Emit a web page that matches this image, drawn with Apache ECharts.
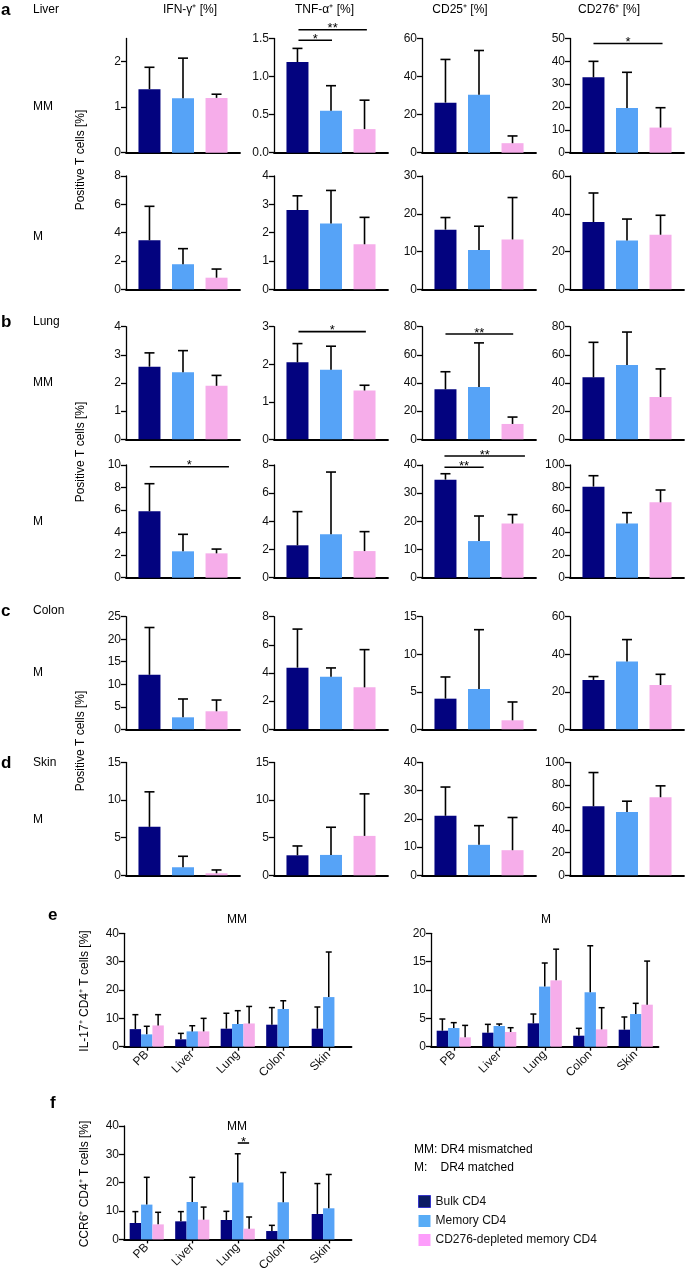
<!DOCTYPE html>
<html>
<head>
<meta charset="utf-8" />
<title>T cell subsets</title>
<script src="https://cdn.jsdelivr.net/npm/echarts@6/dist/echarts.min.js"></script>
<style>
  body { margin: 0; background: #fff; }
  #main { width: 685px; height: 1277px; }
</style>
</head>
<body>
<div id="main"></div>
<script type="text/javascript">
// groups and colours
var groups = ['Bulk CD4', 'Memory CD4', 'CD276-depleted memory CD4'];
var colors = ['#03037f', '#56a3f7', '#f6adea'];
var markers = ['IFN-γ⁺ [%]', 'TNF-α⁺ [%]', 'CD25⁺ [%]', 'CD276⁺ [%]'];
var tissues = ['PB', 'Liver', 'Lung', 'Colon', 'Skin'];

// panels a-d: per marker [bulk, memory, CD276-depleted], mean and top of error bar
var liverMM_mean = [[1.39, 1.19, 1.2], [1.19, 0.55, 0.31], [26.3, 30.5, 5], [33, 19.6, 11]];
var liverMM_err = [[1.87, 2.07, 1.28], [1.37, 0.88, 0.69], [49, 53.7, 8.8], [40, 35.2, 19.7]];
var liverMM_ticks = [[0, 1, 2], [0, 0.5, 1, 1.5], [0, 20, 40, 60], [0, 10, 20, 30, 40, 50]];

var liverM_mean = [[3.46, 1.77, 0.82], [2.8, 2.32, 1.59], [15.8, 10.4, 13.2], [35.6, 25.8, 28.9]];
var liverM_err = [[5.86, 2.87, 1.43], [3.3, 3.49, 2.54], [19, 16.7, 24.3], [51, 37.2, 39.2]];
var liverM_ticks = [[0, 2, 4, 6, 8], [0, 1, 2, 3, 4], [0, 10, 20, 30], [0, 20, 40, 60]];

var lungMM_mean = [[2.58, 2.38, 1.9], [2.05, 1.85, 1.3], [35.5, 37.2, 10.9], [44, 52.8, 30]];
var lungMM_err = [[3.07, 3.15, 2.27], [2.55, 2.48, 1.44], [48, 68.5, 15.8], [68.9, 76.2, 50]];
var lungMM_ticks = [[0, 1, 2, 3, 4], [0, 1, 2, 3], [0, 20, 40, 60, 80], [0, 20, 40, 60, 80]];

var lungM_mean = [[5.89, 2.34, 2.16], [2.3, 3.08, 1.89], [34.8, 13, 19.2], [80.8, 48.2, 66.9]];
var lungM_err = [[8.34, 3.85, 2.54], [4.69, 7.5, 3.27], [36.9, 21.9, 22.4], [90.5, 57.7, 77.8]];
var lungM_ticks = [[0, 2, 4, 6, 8, 10], [0, 2, 4, 6, 8], [0, 10, 20, 30, 40], [0, 20, 40, 60, 80, 100]];

var colon_mean = [[12.1, 2.66, 4.0], [4.38, 3.74, 2.98], [4.08, 5.37, 1.2], [26.3, 36.1, 23.6]];
var colon_err = [[22.6, 6.73, 6.5], [7.12, 4.36, 5.66], [6.97, 13.27, 3.64], [28.1, 47.8, 29.3]];
var colon_ticks = [[0, 5, 10, 15, 20, 25], [0, 2, 4, 6, 8], [0, 5, 10, 15], [0, 20, 40, 60]];

var skin_mean = [[6.44, 1.07, 0.27], [2.66, 2.71, 5.24], [21.1, 10.8, 8.9], [61.2, 56.2, 69.2]];
var skin_err = [[11.1, 2.53, 0.71], [3.9, 6.39, 10.83], [31.3, 17.6, 20.5], [91.1, 65.7, 79.3]];
var skin_ticks = [[0, 5, 10, 15], [0, 5, 10, 15], [0, 10, 20, 30, 40], [0, 20, 40, 60, 80, 100]];

// significance bars: [row, marker, x from, x to, y, label]
var sigRows = [
  [0, 1, 1.03, 2.03, 1.477, '*'], [0, 1, 1.03, 3.07, 1.614, '**'],
  [0, 3, 1.0, 3.06, 47.8, '*'],
  [2, 1, 1.03, 3.04, 2.87, '*'], [2, 2, 1.0, 3.02, 74.8, '**'],
  [3, 0, 1.01, 3.37, 9.85, '*'], [3, 2, 0.97, 2.14, 39.2, '**'], [3, 2, 0.97, 3.37, 43.2, '**']
];

// panel e and f: per group, values over tissues
var eMM_mean = [[6.2, 2.6, 6.35, 7.76, 6.35], [4.35, 5.4, 8, 13.3, 17.5], [7.5, 5.4, 8.2, null, null]];
var eMM_err = [[11.3, 4.7, 11.8, 13.8, 14], [7.2, 7.4, 12.7, 16.2, 33.4], [11.3, 10, 14.2, null, null]];
var eM_mean = [[2.82, 2.47, 4.12, 1.94, 3.0], [3.29, 3.65, 10.6, 9.6, 5.76], [1.65, 2.59, 11.7, 3.06, 7.41]];
var eM_err = [[4.88, 3.94, 5.76, 3.24, 5.24], [4.24, 4.0, 14.76, 17.8, 7.65], [3.76, 3.35, 17.2, 6.88, 15.1]];
var f_mean = [[5.78, 6.37, 6.84, 2.95, 8.97], [12.27, 13.2, 20.06, 13.1, 10.97], [5.3, 6.96, 3.78, null, null]];
var f_err = [[9.8, 9.8, 9.9, 4.96, 19.7], [21.9, 21.9, 30.2, 23.6, 22.9], [9.56, 11.4, 7.9, null, null]];
var eMM_ticks = [0, 10, 20, 30, 40];
var eM_ticks = [0, 5, 10, 15, 20];
var f_ticks = [0, 10, 20, 30, 40];
// f: [tissue, group from, group to, y, label]
var fSig = [[2, 1, 2, 34, '*']];

var FONT = "'Liberation Sans', Arial, Helvetica, sans-serif";

var myChart = echarts.init(document.getElementById('main'), null, {renderer: 'canvas'});

var grids = [], xAxes = [], yAxes = [], series = [];

function fmt(ticks) {
  var dec = ticks.some(function (t) { return t % 1 !== 0; }) ? 1 : 0;
  return function (v) { return v.toFixed(dec); };
}

function yAxisFor(g, ticks, top) {
  return {
    gridIndex: g, type: 'value', min: 0, max: top, interval: ticks[1] - ticks[0],
    splitLine: {show: false},
    axisLine: {show: true, onZero: false, lineStyle: {color: '#000', width: 1.3}},
    axisTick: {show: true, length: 5, lineStyle: {color: '#000', width: 1.3}, customValues: ticks},
    axisLabel: {color: '#111', fontSize: 12, fontFamily: FONT, margin: 5, customValues: ticks, formatter: fmt(ticks)}
  };
}

// error bars, single-series panels (value x axis)
function errSimple(params, api) {
  var x = api.value(0), m = api.value(1), e = api.value(2);
  var p0 = api.coord([x, m]), p1 = api.coord([x, e]);
  var st = {stroke: '#000', lineWidth: 1.6};
  return {type: 'group', children: [
    {type: 'line', shape: {x1: p0[0], y1: p0[1], x2: p1[0], y2: p1[1]}, style: st},
    {type: 'line', shape: {x1: p1[0] - 5, y1: p1[1], x2: p1[0] + 5, y2: p1[1]}, style: st}
  ]};
}

// error bars, grouped panels (category x axis)
function errGrouped(params, api) {
  var x = api.value(0), m = api.value(1), e = api.value(2), k = api.value(3);
  var bw = api.size([1, 0])[0] * 0.75 / 3;
  var p0 = api.coord([x, m]), p1 = api.coord([x, e]);
  var dx = (k - 1) * bw;
  var st = {stroke: '#000', lineWidth: 1.5};
  return {type: 'group', children: [
    {type: 'line', shape: {x1: p0[0] + dx, y1: p0[1], x2: p1[0] + dx, y2: p1[1]}, style: st},
    {type: 'line', shape: {x1: p1[0] + dx - 3, y1: p1[1], x2: p1[0] + dx + 3, y2: p1[1]}, style: st}
  ]};
}

function sigItem(x1, x2, y, label) {
  return {type: 'group', children: [
    {type: 'line', shape: {x1: x1, y1: y, x2: x2, y2: y}, style: {stroke: '#000', lineWidth: 1.6}},
    {type: 'text', style: {text: label, x: (x1 + x2) / 2, y: y - 1, textAlign: 'center', textVerticalAlign: 'middle',
      align: 'center', verticalAlign: 'middle', font: '13px ' + FONT, fill: '#000'}}
  ]};
}

function sigSimpleRender(sigs) {
  return function (params, api) {
    var a = api.coord([api.value(0), api.value(2)]);
    var b = api.coord([api.value(1), api.value(2)]);
    return sigItem(a[0], b[0], a[1], sigs[params.dataIndex][5]);
  };
}

// layout of panels a-d
var colLeft = [126, 274, 422, 570];
var rowTop = [38.5, 176, 326.7, 465, 616.7, 762.5];
var rowBottom = [152.7, 289.3, 439.3, 577.7, 729.3, 875.3];
var rows = [
  [liverMM_mean, liverMM_err, liverMM_ticks],
  [liverM_mean, liverM_err, liverM_ticks],
  [lungMM_mean, lungMM_err, lungMM_ticks],
  [lungM_mean, lungM_err, lungM_ticks],
  [colon_mean, colon_err, colon_ticks],
  [skin_mean, skin_err, skin_ticks]
];
var topOverride = {'0-0': 2.5};

rows.forEach(function (row, r) {
  for (var c = 0; c < 4; c++) {
    var g = grids.length;
    var ticks = row[2][c];
    var top = topOverride[r + '-' + c] || ticks[ticks.length - 1];
    grids.push({left: colLeft[c], top: rowTop[r], width: 114, height: rowBottom[r] - rowTop[r]});
    xAxes.push({
      gridIndex: g, type: 'value', min: 0.3, max: 3.7,
      splitLine: {show: false}, axisTick: {show: false}, axisLabel: {show: false},
      axisLine: {show: true, onZero: false, lineStyle: {color: '#000', width: 1.8}}
    });
    yAxes.push(yAxisFor(g, ticks, top));
    series.push({
      type: 'bar', name: 'panel' + g, xAxisIndex: g, yAxisIndex: g, barWidth: 22,
      data: [0, 1, 2].map(function (k) {
        return {value: [k + 1, row[0][c][k]], itemStyle: {color: colors[k]}};
      })
    });
    series.push({
      type: 'custom', xAxisIndex: g, yAxisIndex: g, z: 5,
      renderItem: errSimple, encode: {x: 0, y: [1, 2]},
      data: [0, 1, 2].map(function (k) { return [k + 1, row[0][c][k], row[1][c][k]]; })
    });
    var sigs = sigRows.filter(function (s) { return s[0] === r && s[1] === c; });
    if (sigs.length) {
      series.push({
        type: 'custom', xAxisIndex: g, yAxisIndex: g, z: 6, clip: false,
        renderItem: sigSimpleRender(sigs),
        data: sigs.map(function (s) { return [s[2], s[3], s[4]]; })
      });
    }
  }
});

// grouped panels e (MM, M) and f
var grouped = [
  {left: 124, top: 933.3, mean: eMM_mean, err: eMM_err, ticks: eMM_ticks, sig: []},
  {left: 431, top: 933.3, mean: eM_mean, err: eM_err, ticks: eM_ticks, sig: []},
  {left: 124, top: 1126, mean: f_mean, err: f_err, ticks: f_ticks, sig: fSig}
];
grouped.forEach(function (p) {
  var g = grids.length;
  grids.push({left: p.left, top: p.top, width: 227.5, height: 113.4});
  xAxes.push({
    gridIndex: g, type: 'category', data: tissues,
    axisLine: {show: true, lineStyle: {color: '#000', width: 1.8}},
    axisTick: {show: true, alignWithLabel: true, length: 4, lineStyle: {color: '#000', width: 1.3}},
    axisLabel: {rotate: 45, color: '#111', fontSize: 12, fontFamily: FONT, margin: 6}
  });
  yAxes.push(yAxisFor(g, p.ticks, p.ticks[p.ticks.length - 1]));
  var errData = [];
  for (var k = 0; k < 3; k++) {
    series.push({
      type: 'bar', name: groups[k], xAxisIndex: g, yAxisIndex: g,
      barGap: '0%', barCategoryGap: '25%', itemStyle: {color: colors[k]},
      data: p.mean[k]
    });
    p.mean[k].forEach(function (v, i) {
      if (v !== null) errData.push([i, v, p.err[k][i], k]);
    });
  }
  series.push({
    type: 'custom', xAxisIndex: g, yAxisIndex: g, z: 5,
    renderItem: errGrouped, encode: {x: 0, y: [1, 2]}, data: errData
  });
  if (p.sig.length) {
    series.push({
      type: 'custom', xAxisIndex: g, yAxisIndex: g, z: 6, clip: false,
      renderItem: function (params, api) {
        var bw = api.size([1, 0])[0] * 0.75 / 3;
        var c0 = api.coord([api.value(0), api.value(3)]);
        return sigItem(c0[0] + (api.value(1) - 1) * bw, c0[0] + (api.value(2) - 1) * bw, c0[1],
          p.sig[params.dataIndex][4]);
      },
      data: p.sig.map(function (s) { return [s[0], s[1], s[2], s[3]]; })
    });
  }
});

// texts around the panels
function txt(x, y, s, opt) {
  opt = opt || {};
  return {
    type: 'text', x: x, y: y, rotation: opt.rot || 0, silent: true,
    style: {text: s, fill: '#000', align: opt.align || 'left', verticalAlign: 'middle',
      font: (opt.bold ? 'bold ' : '') + (opt.size || 12) + 'px ' + FONT}
  };
}
var graphics = [];
[['a', 10], ['b', 322], ['c', 611], ['d', 763]].forEach(function (l) {
  graphics.push(txt(1, l[1], l[0], {bold: true, size: 17}));
});
graphics.push(txt(48, 915, 'e', {bold: true, size: 17}));
graphics.push(txt(50, 1103, 'f', {bold: true, size: 17}));
[['Liver', 10], ['MM', 107], ['M', 237], ['Lung', 322], ['MM', 383], ['M', 522],
 ['Colon', 611], ['M', 673], ['Skin', 763], ['M', 820]].forEach(function (l) {
  graphics.push(txt(33, l[1], l[0], {size: 12}));
});
[190, 324.5, 460, 609].forEach(function (x, i) {
  graphics.push(txt(x, 10, markers[i], {align: 'center', size: 12}));
});
[160, 452, 741].forEach(function (y) {
  graphics.push(txt(81, y, 'Positive T cells [%]', {align: 'center', rot: Math.PI / 2}));
});
graphics.push(txt(85, 991, 'IL-17⁺ CD4⁺ T cells [%]', {align: 'center', rot: Math.PI / 2}));
graphics.push(txt(85, 1184, 'CCR6⁺ CD4⁺ T cells [%]', {align: 'center', rot: Math.PI / 2}));
graphics.push(txt(237, 920, 'MM', {align: 'center'}));
graphics.push(txt(546, 920, 'M', {align: 'center'}));
graphics.push(txt(237, 1127, 'MM', {align: 'center'}));
graphics.push(txt(414, 1150, 'MM: DR4 mismatched'));
graphics.push(txt(414, 1168, 'M:'));
graphics.push(txt(440.5, 1168, 'DR4 matched'));

var option = {
  animation: false,
  textStyle: {fontFamily: FONT},
  grid: grids,
  xAxis: xAxes,
  yAxis: yAxes,
  series: series,
  legend: {
    orient: 'vertical', left: 413, top: 1190, icon: 'rect',
    itemWidth: 12, itemHeight: 12, itemGap: 7,
    textStyle: {fontSize: 12, color: '#111', fontFamily: FONT},
    data: [
      {name: groups[0], itemStyle: {color: '#0c1c63', borderColor: '#3535c8', borderWidth: 1}},
      {name: groups[1], itemStyle: {color: '#58acf6'}},
      {name: groups[2], itemStyle: {color: '#fd9dfb'}}
    ],
    selectedMode: false
  },
  graphic: graphics
};

myChart.setOption(option);
</script>
</body>
</html>
